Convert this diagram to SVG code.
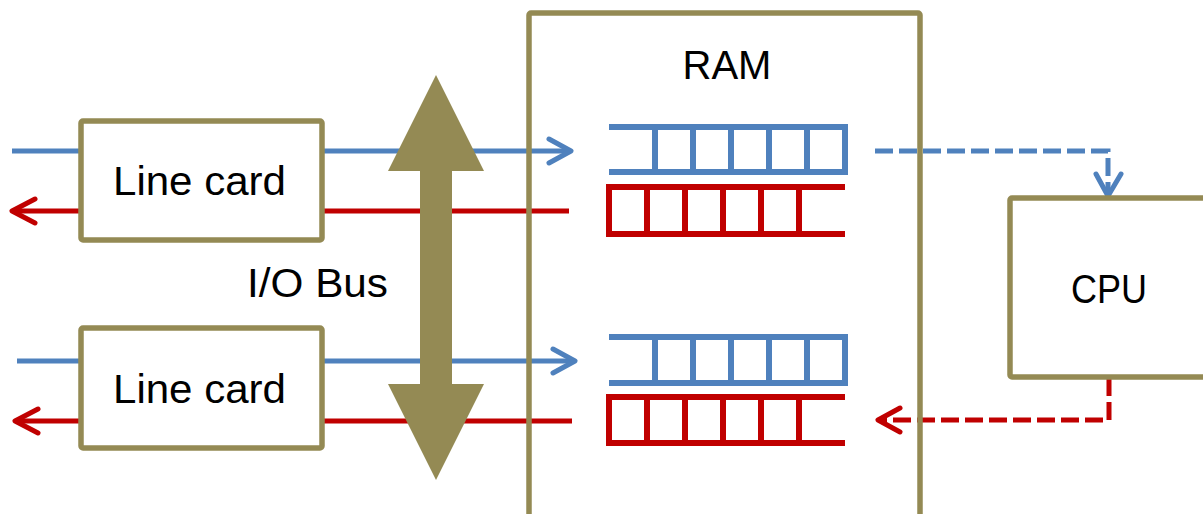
<svg xmlns="http://www.w3.org/2000/svg" width="1203" height="514" viewBox="0 0 1203 514">
<defs>
<style>
.box{fill:#fff;stroke:#948A54;stroke-width:5.5}
.frame{fill:none;stroke:#948A54;stroke-width:5.5}
.lbl{font-family:"Liberation Sans",Arial,sans-serif;font-size:40px;fill:#000}
.blue{fill:none;stroke:#4F81BD;stroke-width:5}
.red{fill:none;stroke:#C00000;stroke-width:5}
.q{stroke-width:6}
.head{stroke-linecap:round;stroke-linejoin:round}
.dash{stroke-dasharray:18 6}
.bus{fill:#948A54}
</style>
</defs>
<rect width="1203" height="514" fill="#fff"/>
<g id="connectors">
<line class="blue" x1="12" y1="151" x2="81" y2="151"/>
<line class="blue" x1="322" y1="151" x2="570" y2="151"/>
<polyline class="blue head" points="549,139 571,151 549,163"/>
<line class="red" x1="13" y1="211" x2="81" y2="211"/>
<line class="red" x1="322" y1="211" x2="569" y2="211"/>
<polyline class="red head" points="35,199 12,211 35,223"/>
<line class="blue" x1="17" y1="361" x2="81" y2="361"/>
<line class="blue" x1="322" y1="361" x2="574" y2="361"/>
<polyline class="blue head" points="553,349 575,361 553,373"/>
<line class="red" x1="17" y1="421" x2="81" y2="421"/>
<line class="red" x1="322" y1="421" x2="572" y2="421"/>
<polyline class="red head" points="38,409 15,421 38,433"/>
<polyline class="blue dash" points="875,151 1108,151 1108,194"/>
<polyline class="blue head" points="1096,174 1108,196 1121,174"/>
<polyline class="red dash" points="1109,378 1109,420 880,420"/>
<polyline class="red head" points="900,408 878,420 900,432"/>
</g>
<g id="bus">
<polygon class="bus" points="436,75 484,171 452,171 452,384 484,384 436,480 388,384 420,384 420,171 388,171"/>
<text class="lbl" x="247" y="297" textLength="141" lengthAdjust="spacingAndGlyphs">I/O Bus</text>
</g>
<g id="ram">
<rect class="frame" x="529" y="13" width="391" height="520" rx="2"/>
<text class="lbl" x="727" y="79" text-anchor="middle">RAM</text>
</g>
<g id="queue-in-1">
<polyline class="blue q" points="609,127 845,127 845,172 609,172"/>
<path class="blue q" d="M655 127V172M693 127V172M731 127V172M769 127V172M807 127V172"/>
</g>
<g id="queue-out-1">
<polyline class="red q" points="845,187 609,187 609,234 845,234"/>
<path class="red q" d="M647 187V234M685 187V234M723 187V234M761 187V234M799 187V234"/>
</g>
<g id="queue-in-2">
<polyline class="blue q" points="609,337 845,337 845,383 609,383"/>
<path class="blue q" d="M655 337V383M693 337V383M731 337V383M769 337V383M807 337V383"/>
</g>
<g id="queue-out-2">
<polyline class="red q" points="845,397 609,397 609,443 845,443"/>
<path class="red q" d="M647 397V443M685 397V443M723 397V443M761 397V443M799 397V443"/>
</g>
<g id="linecard-1">
<rect class="box" x="81" y="121" width="241" height="119" rx="2"/>
<text class="lbl" x="113" y="195" textLength="173" lengthAdjust="spacingAndGlyphs">Line card</text>
</g>
<g id="linecard-2">
<rect class="box" x="81" y="328" width="241" height="120" rx="2"/>
<text class="lbl" x="113" y="403" textLength="173" lengthAdjust="spacingAndGlyphs">Line card</text>
</g>
<g id="cpu">
<rect class="box" x="1010" y="198" width="220" height="179" rx="2"/>
<text class="lbl" x="1071" y="303" textLength="76" lengthAdjust="spacingAndGlyphs">CPU</text>
</g>
</svg>
